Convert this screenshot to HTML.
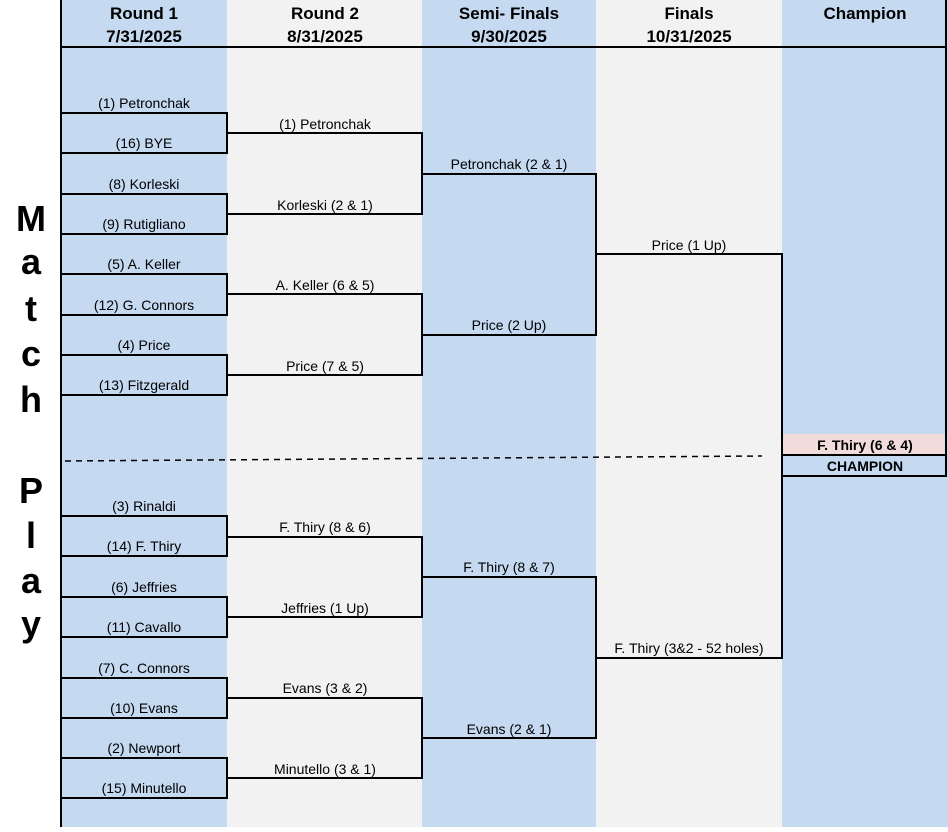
<!DOCTYPE html>
<html><head><style>
body{margin:0;background:#fff}
svg text{font-family:"Liberation Sans",Arial,sans-serif}
</style></head><body>
<svg width="948" height="827" xmlns="http://www.w3.org/2000/svg">
<rect x="61" y="0" width="166" height="827" fill="#c5d9f1"/>
<rect x="227" y="0" width="195" height="827" fill="#f2f2f2"/>
<rect x="422" y="0" width="174" height="827" fill="#c5d9f1"/>
<rect x="596" y="0" width="186" height="827" fill="#f2f2f2"/>
<rect x="782" y="0" width="166" height="827" fill="#c5d9f1"/>
<rect x="783" y="434" width="163" height="21" fill="#f2dcdb"/>
<g font-weight="bold" font-size="17" text-anchor="middle" fill="#000">
<text x="144" y="19">Round 1</text><text x="144" y="42">7/31/2025</text>
<text x="325" y="19">Round 2</text><text x="325" y="42">8/31/2025</text>
<text x="509" y="19">Semi- Finals</text><text x="509" y="42">9/30/2025</text>
<text x="689" y="19">Finals</text><text x="689" y="42">10/31/2025</text>
<text x="865" y="19">Champion</text>
</g>
<g font-weight="bold" font-size="36" text-anchor="middle">
<text x="31" y="231">M</text><text x="31" y="274">a</text><text x="31" y="321">t</text><text x="31" y="366">c</text><text x="31" y="412">h</text>
<text x="31" y="503">P</text><text x="31" y="548">l</text><text x="31" y="593">a</text><text x="31" y="636">y</text>
</g>
<g stroke="#000" stroke-width="2" fill="none">
<line x1="61" y1="0" x2="61" y2="827"/>
<line x1="61" y1="47" x2="946" y2="47"/>
<path d="M61 113H227V153H61M61 194H227V234H61M61 274H227V315H61M61 355H227V395H61"/>
<path d="M61 516H227V556H61M61 597H227V637H61M61 678H227V718H61M61 758H227V798H61"/>
<path d="M227 133H422V214H227M227 294H422V375H227M227 537H422V617H227M227 698H422V778H227"/>
<path d="M422 174H596V335H422M422 577H596V738H422"/>
<path d="M596 254H782V658H596"/>
<path d="M782 455H946M782 476H946M946 0V477"/>
</g>
<line x1="65" y1="461" x2="762" y2="456" stroke="#000" stroke-width="1.5" stroke-dasharray="6,5"/>
<g font-size="14" text-anchor="middle" fill="#000">
<text x="144" y="108">(1) Petronchak</text><text x="144" y="148">(16) BYE</text>
<text x="144" y="189">(8) Korleski</text><text x="144" y="229">(9) Rutigliano</text>
<text x="144" y="269">(5) A. Keller</text><text x="144" y="310">(12)  G. Connors</text>
<text x="144" y="350">(4) Price</text><text x="144" y="390">(13)  Fitzgerald</text>
<text x="144" y="511">(3) Rinaldi</text><text x="144" y="551">(14) F. Thiry</text>
<text x="144" y="592">(6) Jeffries</text><text x="144" y="632">(11) Cavallo</text>
<text x="144" y="673">(7) C. Connors</text><text x="144" y="713">(10) Evans</text>
<text x="144" y="753">(2) Newport</text><text x="144" y="793">(15) Minutello</text>
<text x="325" y="129">(1) Petronchak</text><text x="325" y="210">Korleski (2 &amp; 1)</text>
<text x="325" y="290">A. Keller (6 &amp; 5)</text><text x="325" y="371">Price (7 &amp; 5)</text>
<text x="325" y="532">F. Thiry (8 &amp; 6)</text><text x="325" y="613">Jeffries (1 Up)</text>
<text x="325" y="693">Evans (3 &amp; 2)</text><text x="325" y="774">Minutello (3 &amp; 1)</text>
<text x="509" y="169">Petronchak (2 &amp; 1)</text><text x="509" y="330">Price (2 Up)</text>
<text x="509" y="572">F. Thiry (8 &amp; 7)</text><text x="509" y="734">Evans (2 &amp; 1)</text>
<text x="689" y="250">Price (1 Up)</text><text x="689" y="653">F. Thiry (3&amp;2 - 52 holes)</text>
</g>
<g font-size="14" font-weight="bold" text-anchor="middle">
<text x="865" y="450">F. Thiry (6 &amp; 4)</text>
<text x="865" y="471">CHAMPION</text>
</g>
</svg>
</body></html>
